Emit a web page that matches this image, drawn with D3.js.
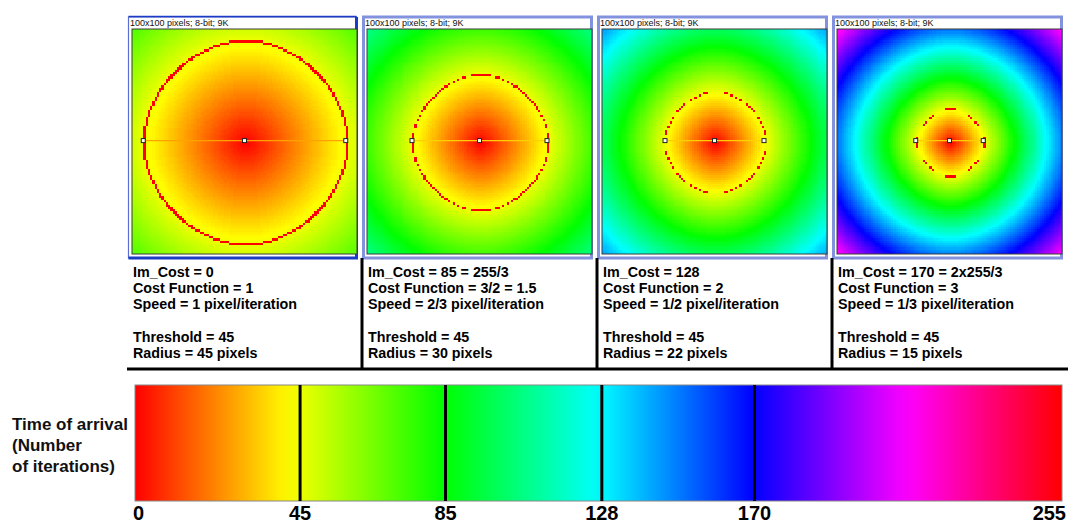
<!DOCTYPE html>
<html><head><meta charset="utf-8">
<script src="https://cdn.jsdelivr.net/npm/d3@7"></script>
<style>
body{margin:0;background:#fff}
svg{display:block}
text{font-family:"Liberation Sans",Arial,sans-serif}
</style>
</head><body>
<svg id="chart" width="1068" height="525"></svg>
<script>
// ---- data ----
const imCost = ["0", "85 = 255/3", "128", "170 = 2x255/3"];
const costFunction = [1, 1.5, 2, 3];
const costFunctionLabel = ["1", "3/2 = 1.5", "2", "3"];
const speedLabel = ["1", "2/3", "1/2", "1/3"];
const threshold = [45, 45, 45, 45];
const radius = [45, 30, 22, 15];
const imageInfo = "100x100 pixels; 8-bit; 9K";
const imageSize = 100;
const tickValues = [0, 45, 85, 128, 170, 255];
const markerValues = [45, 85, 128, 170];
const axisTitle = ["Time of arrival", "(Number", "of iterations)"];

// ---- fast marching: time of arrival from the centre seed ----
function fastMarch(n, cost, seed) {
  const T = new Float64Array(n * n).fill(Infinity);
  const done = new Uint8Array(n * n);
  const heap = [];
  const push = (t, idx) => {
    heap.push([t, idx]);
    let c = heap.length - 1;
    while (c > 0) {
      const p = (c - 1) >> 1;
      if (heap[p][0] <= heap[c][0]) break;
      [heap[p], heap[c]] = [heap[c], heap[p]]; c = p;
    }
  };
  const pop = () => {
    const top = heap[0], last = heap.pop();
    if (heap.length) {
      heap[0] = last;
      let c = 0;
      for (;;) {
        const l = 2 * c + 1, r = l + 1;
        let m = c;
        if (l < heap.length && heap[l][0] < heap[m][0]) m = l;
        if (r < heap.length && heap[r][0] < heap[m][0]) m = r;
        if (m === c) break;
        [heap[m], heap[c]] = [heap[c], heap[m]]; c = m;
      }
    }
    return top;
  };
  const s = seed * n + seed;
  T[s] = 0; push(0, s);
  const val = (x, y) => (x < 0 || y < 0 || x >= n || y >= n || !done[y * n + x]) ? Infinity : T[y * n + x];
  while (heap.length) {
    const [t, idx] = pop();
    if (done[idx]) continue;
    done[idx] = 1;
    const x = idx % n, y = (idx / n) | 0;
    [[1, 0], [-1, 0], [0, 1], [0, -1]].forEach(([dx, dy]) => {
      const nx = x + dx, ny = y + dy;
      if (nx < 0 || ny < 0 || nx >= n || ny >= n) return;
      const ni = ny * n + nx;
      if (done[ni]) return;
      const a = Math.min(val(nx - 1, ny), val(nx + 1, ny));
      const b = Math.min(val(nx, ny - 1), val(nx, ny + 1));
      let tn;
      if (Math.abs(a - b) >= cost || !isFinite(a) || !isFinite(b)) tn = Math.min(a, b) + cost;
      else tn = (a + b + Math.sqrt(2 * cost * cost - (a - b) * (a - b))) / 2;
      if (tn < T[ni]) { T[ni] = tn; push(tn, ni); }
    });
  }
  return T;
}

// ---- layout ----
const svg = d3.select("#chart");
const panels = d3.range(imCost.length);
const band = d3.scaleBand().domain(panels).range([128, 1068]).padding(0);
const imgW = 225, imgTop = 29;
const px = d3.scaleLinear().domain([0, imageSize]).range([0, imgW]);
const lut = v => d3.hsl(v / 255 * 360, 1, 0.5).rgb();

panels.forEach(i => {
  const x0 = band(i);
  const active = i === 0;
  const fw = band.bandwidth() - 7;
  svg.append("rect")
    .attr("x", x0 + 0.5).attr("y", 17)
    .attr("width", fw).attr("height", 241)
    .attr("fill", "#fff")
    .attr("stroke", active ? "#5a6fd0" : "#8292dc")
    .attr("stroke-width", active ? 1.2 : 3);
  if (active) {
    svg.append("path")
      .attr("d", `M${x0 + 0.5},258 H${x0 + 0.5 + fw} V17`)
      .attr("fill", "none").attr("stroke", "#1d3cc6").attr("stroke-width", 3);
    svg.append("line").attr("x1", x0 + 0.5).attr("x2", x0 + 0.5 + fw).attr("y1", 16.5).attr("y2", 16.5)
      .attr("stroke", "#1d3cc6").attr("stroke-width", 1.5);
  }
  svg.append("text")
    .attr("x", x0 + 2).attr("y", 25.5)
    .attr("font-size", 9).attr("fill", "#111")
    .text(imageInfo);

  // image: time-of-arrival map shown through the spectrum LUT
  const cx = imageSize / 2;
  const T = fastMarch(imageSize, costFunction[i], cx);
  const c = document.createElement("canvas");
  c.width = imageSize; c.height = imageSize;
  const ctx = c.getContext("2d");
  const id = ctx.createImageData(imageSize, imageSize);
  for (let p = 0; p < imageSize * imageSize; p++) {
    const v = Math.min(255, Math.floor(T[p] + 1e-9));
    const col = v === threshold[i] ? {r: 255, g: 0, b: 0} : lut(v);
    id.data[p * 4] = col.r; id.data[p * 4 + 1] = col.g; id.data[p * 4 + 2] = col.b; id.data[p * 4 + 3] = 255;
  }
  ctx.putImageData(id, 0, 0);
  const big = document.createElement("canvas");
  big.width = imgW; big.height = imgW;
  const bctx = big.getContext("2d");
  bctx.imageSmoothingEnabled = false;
  bctx.drawImage(c, 0, 0, imgW, imgW);

  const ix = x0 + 4;
  const g = svg.append("g").attr("transform", `translate(${ix},${imgTop})`);
  g.append("image").attr("href", big.toDataURL()).attr("width", imgW).attr("height", imgW);
  g.append("rect").attr("width", imgW).attr("height", imgW)
    .attr("fill", "none").attr("stroke", "#3a3a3a").attr("stroke-width", 1);

  // line selection
  const ly = px(cx - 0.4);
  g.append("line")
    .attr("x1", px(cx - radius[i])).attr("x2", px(cx + radius[i]))
    .attr("y1", ly).attr("y2", ly)
    .attr("stroke", active ? "#ffa200" : "#ffcf00").attr("stroke-width", 1.3);
  [cx - radius[i], cx, cx + radius[i]].forEach(h => {
    g.append("rect").attr("x", px(h) - 2).attr("y", ly - 2)
      .attr("width", 4).attr("height", 4)
      .attr("fill", "#fff").attr("stroke", "#222").attr("stroke-width", 1);
  });

  // text
  const lines = [
    ["Im_Cost = " + imCost[i], 0],
    ["Cost Function = " + costFunctionLabel[i], 1],
    ["Speed = " + speedLabel[i] + " pixel/iteration", 2],
    ["Threshold = " + threshold[i], 4],
    ["Radius = " + radius[i] + " pixels", 5]
  ];
  lines.forEach(([t, r]) => {
    svg.append("text").attr("x", ix + 1).attr("y", 276.5 + r * 16.3)
      .attr("font-size", 14.3).attr("font-weight", "bold").attr("fill", "#000").text(t);
  });
  if (i > 0) {
    svg.append("line").attr("x1", x0 - 1).attr("x2", x0 - 1).attr("y1", 258).attr("y2", 370)
      .attr("stroke", "#000").attr("stroke-width", 3);
  }
});
svg.append("line").attr("x1", 127).attr("x2", 1068).attr("y1", 369).attr("y2", 369)
  .attr("stroke", "#000").attr("stroke-width", 3);

// ---- colour bar ----
const x = d3.scaleLinear().domain([0, 255]).range([135, 1062]);
const barTop = 385, barBottom = 501;
const grad = svg.append("defs").append("linearGradient").attr("id", "spec")
  .attr("x1", "0").attr("x2", "1").attr("y1", "0").attr("y2", "0");
d3.range(0, 256, 5).concat([255]).forEach(v => {
  grad.append("stop").attr("offset", v / 255).attr("stop-color", lut(v).formatHex());
});
svg.append("rect").attr("x", x(0)).attr("y", barTop)
  .attr("width", x(255) - x(0)).attr("height", barBottom - barTop)
  .attr("fill", "url(#spec)").attr("stroke", "#888").attr("stroke-width", 1);
svg.selectAll(".marker").data(markerValues).join("line")
  .attr("x1", d => x(d) + 1.5).attr("x2", d => x(d) + 1.5)
  .attr("y1", barTop).attr("y2", barBottom)
  .attr("stroke", "#000").attr("stroke-width", 3);

svg.selectAll(".tick").data(tickValues).join("text")
  .attr("x", (d, i) => i === 0 ? x(d) - 2 : i === tickValues.length - 1 ? x(d) + 4 : x(d) + 1.5)
  .attr("y", 520)
  .attr("text-anchor", (d, i) => i === 0 ? "start" : i === tickValues.length - 1 ? "end" : "middle")
  .attr("font-size", 20).attr("font-weight", "bold").attr("fill", "#000")
  .text(d => d);

svg.selectAll(".atitle").data(axisTitle).join("text")
  .attr("x", 12).attr("y", (d, i) => 430 + i * 21)
  .attr("font-size", 17).attr("font-weight", "bold").attr("fill", "#111")
  .text(d => d);
</script>
</body></html>
